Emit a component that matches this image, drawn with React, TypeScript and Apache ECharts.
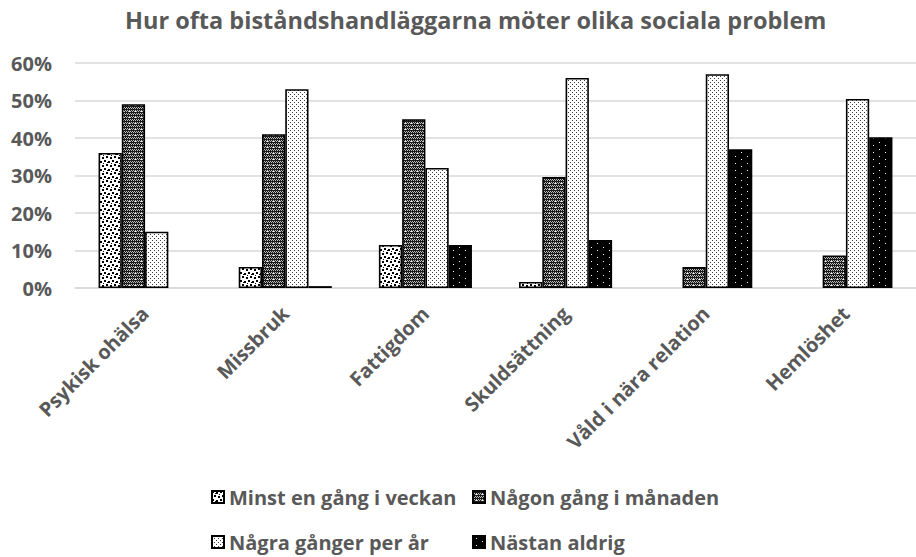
import React, { useEffect, useRef } from "react";
import * as echarts from "echarts";

const categories = ["Psykisk ohälsa", "Missbruk", "Fattigdom", "Skuldsättning", "Våld i nära relation", "Hemlöshet"];
const seriesNames = ["Minst en gång i veckan", "Någon gång i månaden", "Några gånger per år", "Nästan aldrig"];
const minstEnGangIVeckan = [36, 5.6, 11.5, 1.6, 0, 0];
const nagonGangIManaden = [49, 41, 45, 29.6, 5.6, 8.7];
const nagraGangerPerAr = [15, 53, 32, 56, 57, 50.4];
const nastanAldrig = [0, 0.5, 11.5, 12.8, 37, 40.2];
const yTicks = [0, 10, 20, 30, 40, 50, 60];

function makePattern(w: number, h: number, bg: string, fg: string, pts: number[][]) {
  const c = document.createElement("canvas");
  c.width = w;
  c.height = h;
  const ctx = c.getContext("2d")!;
  ctx.fillStyle = bg;
  ctx.fillRect(0, 0, w, h);
  ctx.fillStyle = fg;
  pts.forEach(([x, y, pw, ph]) => ctx.fillRect(x, y, pw ?? 1, ph ?? 1));
  return { image: c, repeat: "repeat" as const };
}

function buildPatterns() {
  // 1: white with black squares, staggered
  const p1 = makePattern(8, 8, "#ffffff", "#000000", [
    [0, 0, 2, 2],
    [4, 1, 2, 2],
    [2, 4, 2, 2],
    [6, 5, 2, 2],
    [3, 2, 1, 1],
    [7, 3, 1, 1],
  ]);
  // 2: dense dark gray texture with white specks
  const pts2: number[][] = [];
  for (let y = 0; y < 6; y++) {
    for (let x = 0; x < 6; x++) {
      if ((x + y) % 2 === 0 || y % 3 === 1) pts2.push([x, y, 1, 1]);
    }
  }
  const p2 = makePattern(6, 6, "#bdbdbd", "#1a1a1a", pts2);
  {
    const ctx = (p2.image as HTMLCanvasElement).getContext("2d")!;
    ctx.fillStyle = "#ffffff";
    ctx.fillRect(3, 3, 1, 1);
  }
  // 3: white with small dark dots
  const p3 = makePattern(4, 4, "#ffffff", "#404040", [
    [0, 0, 1, 1],
    [2, 2, 1, 1],
  ]);
  // 4: black with white dots
  const p4 = makePattern(12, 7, "#000000", "#ffffff", [
    [3, 2, 1, 1],
    [9, 5, 1, 1],
  ]);
  return [p1, p2, p3, p4];
}

export default function App() {
  const ref = useRef<HTMLDivElement>(null);
  useEffect(() => {
    if (!ref.current) return;
    const chart = echarts.init(ref.current, undefined, { renderer: "svg" });
    const pats = buildPatterns();
    const values = [minstEnGangIVeckan, nagonGangIManaden, nagraGangerPerAr, nastanAldrig];
    const font = "'Open Sans', sans-serif";
    const txt = "#595959";
    const legendText = { fontFamily: font, fontWeight: "bold", fontSize: 20, color: txt };
    chart.setOption({
      animation: false,
      backgroundColor: "#ffffff",
      title: {
        text: "Hur ofta biståndshandläggarna möter olika sociala problem",
        left: 120,
        top: 3,
        textStyle: { fontFamily: font, fontWeight: "bold", fontSize: 23.5, color: txt },
      },
      legend: [
        {
          data: [seriesNames[0], seriesNames[2]],
          orient: "vertical",
          left: 206,
          top: 482,
          itemWidth: 12,
          itemHeight: 12,
          itemGap: 25,
          icon: "rect",
          textStyle: legendText,
        },
        {
          data: [seriesNames[1], seriesNames[3]],
          orient: "vertical",
          left: 467,
          top: 482,
          itemWidth: 12,
          itemHeight: 12,
          itemGap: 25,
          icon: "rect",
          textStyle: legendText,
        },
      ],
      grid: { left: 75, right: -1, top: 63, bottom: 269, containLabel: false },
      xAxis: {
        type: "category",
        data: categories,
        axisTick: { show: false },
        axisLine: { lineStyle: { color: "#d9d9d9", width: 1.5 } },
        axisLabel: {
          rotate: 45,
          interval: 0,
          margin: 22,
          fontFamily: font,
          fontWeight: "bold",
          fontSize: 20,
          color: txt,
        },
      },
      yAxis: {
        type: "value",
        min: yTicks[0],
        max: yTicks[yTicks.length - 1],
        interval: 10,
        axisLine: { show: false },
        axisTick: { show: false },
        splitLine: { lineStyle: { color: "#d9d9d9", width: 1.5 } },
        axisLabel: {
          formatter: "{value}%",
          margin: 23,
          fontFamily: font,
          fontWeight: "bold",
          fontSize: 20,
          color: txt,
        },
      },
      series: seriesNames.map((name, i) => ({
        name,
        type: "bar",
        data: values[i].map((v) => (v === 0 ? "-" : v)),
        barGap: "0%",
        barCategoryGap: "33.6%",
        itemStyle: { color: pats[i], borderColor: "#000000", borderWidth: 1.6 },
      })),
    });
    return () => chart.dispose();
  }, []);
  return <div ref={ref} style={{ width: 916, height: 557, position: "absolute", left: 0, top: 0 }} />;
}
